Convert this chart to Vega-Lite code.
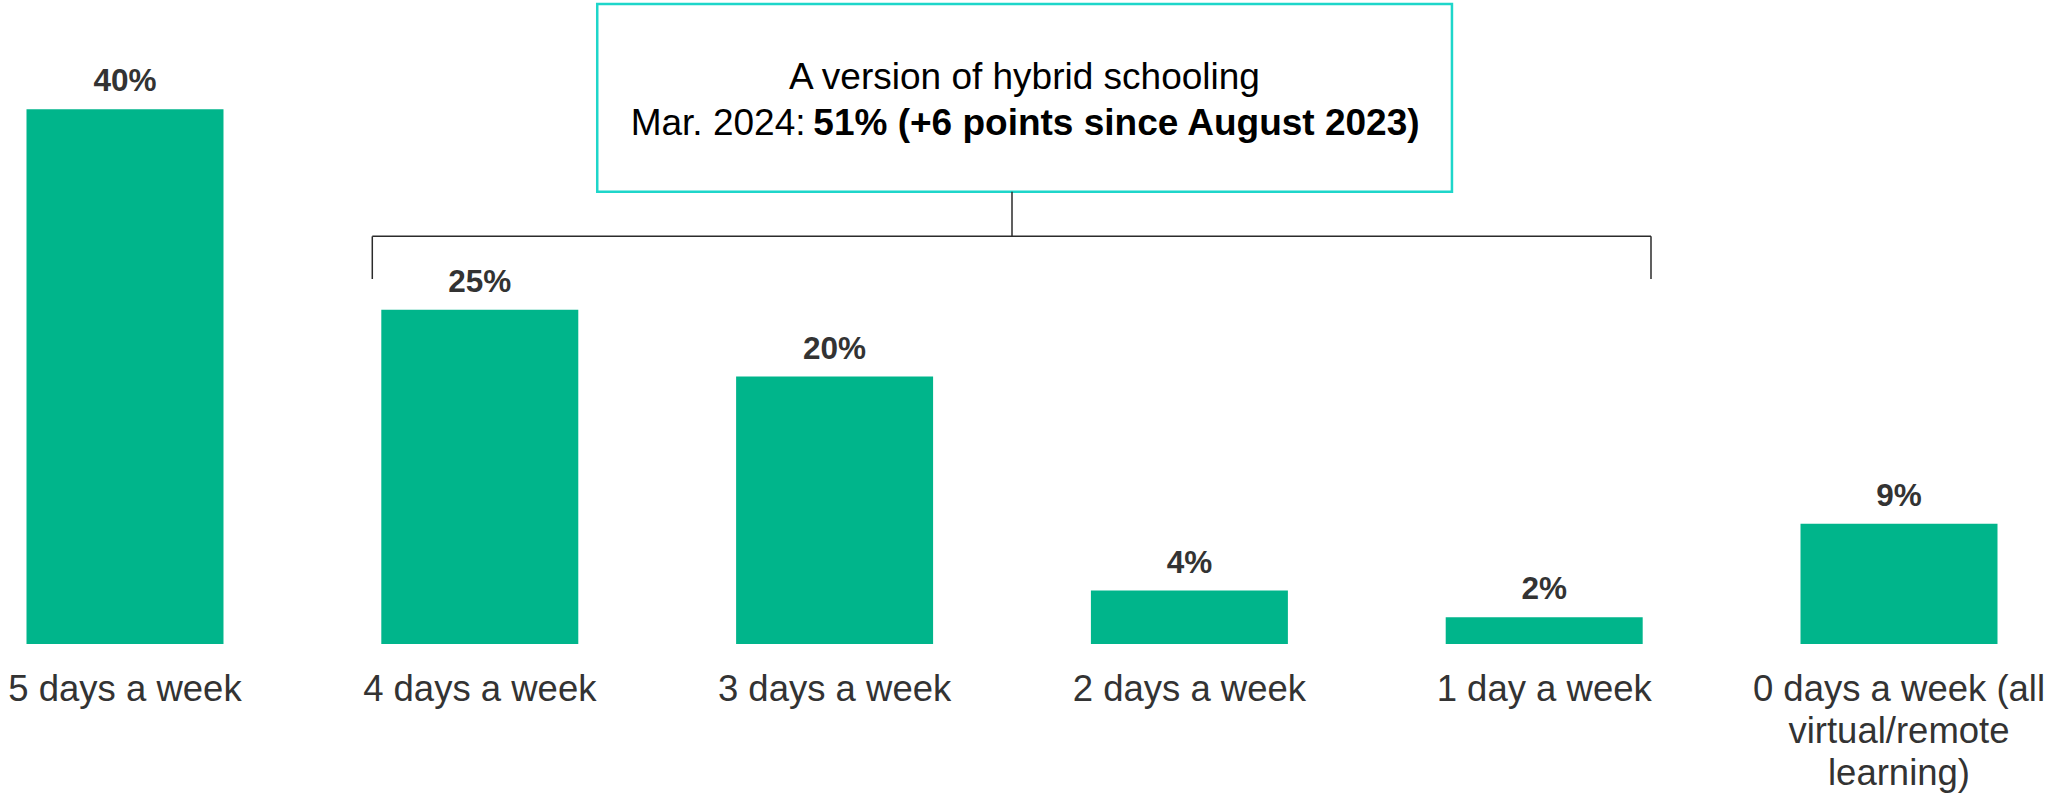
{
  "$schema": "https://vega.github.io/schema/vega-lite/v6.json",
  "width": 2024,
  "height": 644,
  "autosize": "none",
  "padding": {"left": 0, "top": 0, "right": 24, "bottom": 149},
  "background": "white",
  "config": {"view": {"stroke": null}, "font": "Liberation Sans"},
  "datasets": {
    "bars": [
      {"answer": "5 days a week", "share": 0.40},
      {"answer": "4 days a week", "share": 0.25},
      {"answer": "3 days a week", "share": 0.20},
      {"answer": "2 days a week", "share": 0.04},
      {"answer": "1 day a week", "share": 0.02},
      {"answer": "0 days a week (all virtual/remote learning)", "share": 0.09}
    ],
    "rules": [
      {"x1": 0.697, "x2": 4.301, "y1": 0.3049, "y2": 0.3049},
      {"x1": 0.697, "x2": 0.697, "y1": 0.3049, "y2": 0.2730},
      {"x1": 4.301, "x2": 4.301, "y1": 0.3049, "y2": 0.2730},
      {"x1": 2.5, "x2": 2.5, "y1": 0.3383, "y2": 0.3049}
    ],
    "box": [
      {"x1": 1.331, "x2": 3.740, "y1": 0.4787, "y2": 0.3383}
    ],
    "boxtext": [
      {"part": "l1", "tx": 2.535, "ty": 0.4149, "label": "A version of hybrid schooling"},
      {"part": "l2a", "tx": 1.918, "ty": 0.3807, "label": "Mar. 2024:"},
      {"part": "l2b", "tx": 1.940, "ty": 0.3807, "label": "51% (+6 points since August 2023)"}
    ]
  },
  "resolve": {"scale": {"x": "independent"}},
  "layer": [
    {
      "data": {"name": "bars"},
      "encoding": {
        "x": {
          "field": "answer",
          "type": "nominal",
          "sort": null,
          "scale": {"paddingInner": 0.4448, "paddingOuter": 0.0747},
          "axis": {
            "title": null,
            "labelAngle": 0,
            "labelFontSize": 36.5,
            "labelColor": "#333333",
            "labelFont": "Liberation Sans",
            "labelPadding": 27,
            "labelLimit": 600,
            "labelOverlap": false,
            "labelBound": false,
            "labelLineHeight": 42,
            "ticks": false,
            "tickSize": 0,
            "domain": false,
            "grid": false,
            "labelExpr": "datum.value == '0 days a week (all virtual/remote learning)' ? ['0 days a week (all', 'virtual/remote', 'learning)'] : datum.value"
          }
        },
        "y": {
          "field": "share",
          "type": "quantitative",
          "scale": {"domain": [0, 0.4817], "nice": false, "zero": true},
          "axis": null
        }
      },
      "layer": [
        {"mark": {"type": "bar", "color": "#00B58B"}},
        {
          "mark": {"type": "text", "baseline": "alphabetic", "dy": -18, "fontWeight": "bold", "fontSize": 31.5, "color": "#333333", "font": "Liberation Sans"},
          "encoding": {"text": {"field": "share", "type": "quantitative", "format": ".0%"}}
        }
      ]
    },
    {
      "data": {"name": "box"},
      "mark": {"type": "rect", "fill": "white", "stroke": "#1ED6CA", "strokeWidth": 2.5},
      "encoding": {
        "x": {"field": "x1", "type": "quantitative", "scale": {"domain": [-0.3523, 5.3523], "nice": false, "zero": false}, "axis": null},
        "x2": {"field": "x2"},
        "y": {"field": "y1", "type": "quantitative", "scale": {"domain": [0, 0.4817], "nice": false, "zero": true}, "axis": null},
        "y2": {"field": "y2"}
      }
    },
    {
      "data": {"name": "rules"},
      "mark": {"type": "rule", "color": "#2b2b2b", "strokeWidth": 1.5},
      "encoding": {
        "x": {"field": "x1", "type": "quantitative", "scale": {"domain": [-0.3523, 5.3523], "nice": false, "zero": false}, "axis": null},
        "x2": {"field": "x2"},
        "y": {"field": "y1", "type": "quantitative", "scale": {"domain": [0, 0.4817], "nice": false, "zero": true}, "axis": null},
        "y2": {"field": "y2"}
      }
    },
    {
      "data": {"name": "boxtext"},
      "transform": [{"filter": "datum.part == 'l1'"}],
      "mark": {"type": "text", "align": "center", "baseline": "alphabetic", "fontSize": 37, "color": "#000000", "font": "Liberation Sans"},
      "encoding": {
        "x": {"field": "tx", "type": "quantitative", "scale": {"domain": [-0.3523, 5.3523], "nice": false, "zero": false}, "axis": null},
        "y": {"field": "ty", "type": "quantitative", "scale": {"domain": [0, 0.4817], "nice": false, "zero": true}, "axis": null},
        "text": {"field": "label"}
      }
    },
    {
      "data": {"name": "boxtext"},
      "transform": [{"filter": "datum.part == 'l2a'"}],
      "mark": {"type": "text", "align": "right", "baseline": "alphabetic", "fontSize": 37, "color": "#000000", "font": "Liberation Sans"},
      "encoding": {
        "x": {"field": "tx", "type": "quantitative", "scale": {"domain": [-0.3523, 5.3523], "nice": false, "zero": false}, "axis": null},
        "y": {"field": "ty", "type": "quantitative", "scale": {"domain": [0, 0.4817], "nice": false, "zero": true}, "axis": null},
        "text": {"field": "label"}
      }
    },
    {
      "data": {"name": "boxtext"},
      "transform": [{"filter": "datum.part == 'l2b'"}],
      "mark": {"type": "text", "align": "left", "baseline": "alphabetic", "fontSize": 37, "fontWeight": "bold", "color": "#000000", "font": "Liberation Sans"},
      "encoding": {
        "x": {"field": "tx", "type": "quantitative", "scale": {"domain": [-0.3523, 5.3523], "nice": false, "zero": false}, "axis": null},
        "y": {"field": "ty", "type": "quantitative", "scale": {"domain": [0, 0.4817], "nice": false, "zero": true}, "axis": null},
        "text": {"field": "label"}
      }
    }
  ]
}
